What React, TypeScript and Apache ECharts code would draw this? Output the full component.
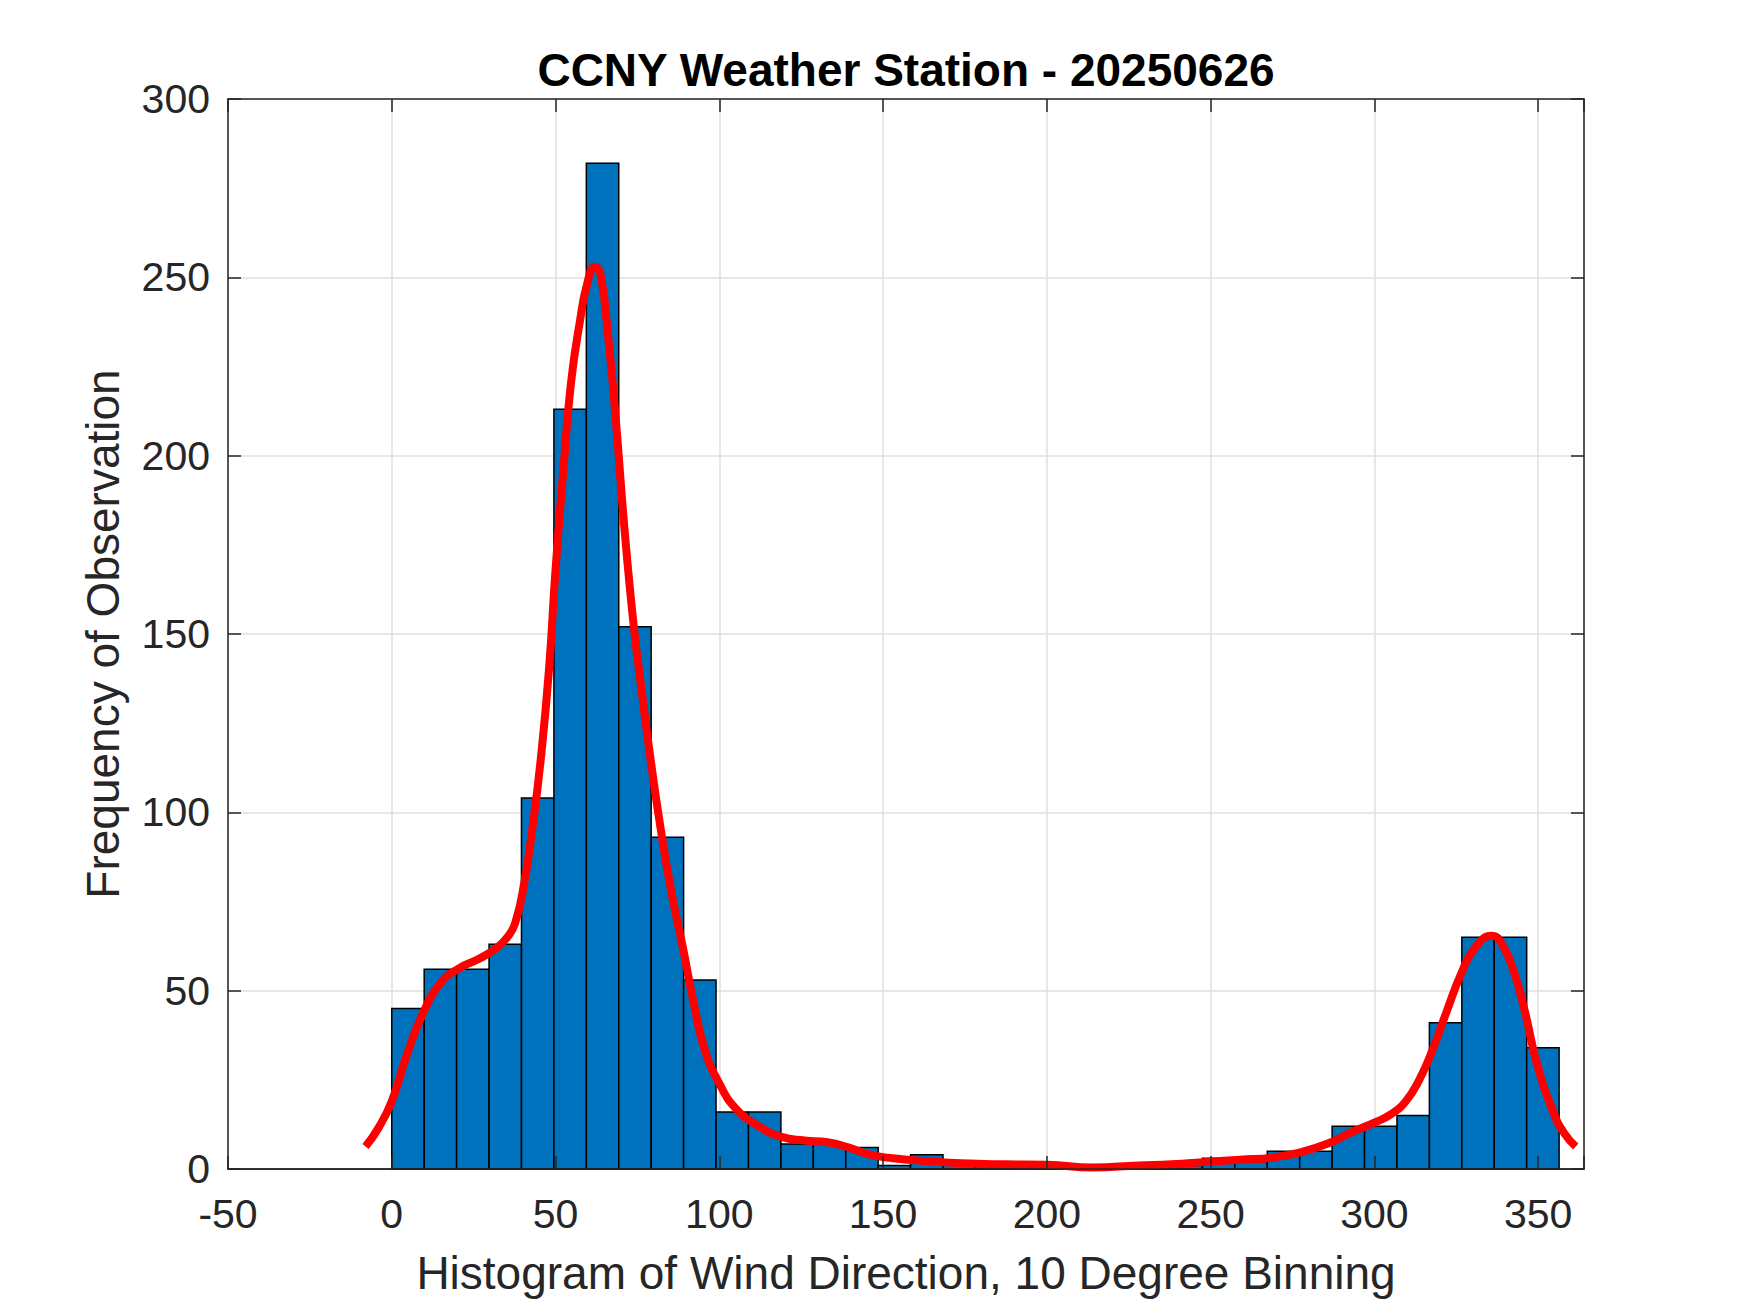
import React, { useEffect, useRef } from 'react';
import * as echarts from 'echarts';

// histogram of wind direction, 36 bins from 0 to ~356.5 deg
const binStart = 0;
const binWidth = 9.9;
const binCounts = [
    45, 56, 56, 63, 104, 213, 282, 152, 93, 53,
    16, 16, 7, 7, 6, 1, 4, 2, 2, 1,
    1, 0, 1, 1, 1, 3, 2, 5, 5, 12,
    12, 15, 41, 65, 65, 34,
];

// density fit (scaled to counts)
const kdeX = [
    -8, -4, 0, 4.6, 9.7, 14.8, 20, 26.8, 32, 35.3, 37.7, 40.4, 43, 45.5, 48, 50,
    52.4, 54.8, 57.5, 59.6, 62, 63.7, 66, 68.5, 71, 73.9, 76.3, 79, 82, 85.5,
    88.9, 92.3, 95.7, 100, 105, 112, 119, 126, 133, 139.6, 146, 153, 163.5, 174,
    187, 200, 214, 228, 238, 249, 259, 269, 277.6, 286, 293, 300, 305, 309.6,
    313.7, 317.8, 322, 326.6, 330.7, 335.8, 339, 342.7, 346, 349.5, 354.6, 358, 361.5,
];
const kdeY = [
    6.3, 11.6, 19, 32, 44, 52, 56, 59, 62, 65, 69, 80, 96, 115, 140, 168,
    196, 221, 238, 248, 253, 251, 234, 209, 180, 152, 134, 115, 96, 77,
    62, 46, 33, 24, 17, 12, 9, 8, 7.5, 6, 4, 3, 2.2, 1.6,
    1.3, 1.2, 0.4, 1, 1.3, 2, 2.6, 3.2, 4.7, 7.2, 10.3, 13, 15.3, 19,
    25, 33.5, 44, 55, 62, 65.4, 63, 55, 44, 30, 16, 10, 6.3,
];

const xTicks = [-50, 0, 50, 100, 150, 200, 250, 300, 350];
const yTicks = [0, 50, 100, 150, 200, 250, 300];

const titleText = 'CCNY Weather Station - 20250626';
const xLabelText = 'Histogram of Wind Direction, 10 Degree Binning';
const yLabelText = 'Frequency of Observation';

const FONT = '"Liberation Sans", Arial, Helvetica, sans-serif';
const AXIS_COLOR = '#262626';

const App = () => {
    const chartRef = useRef(null);

    useEffect(() => {
        const chart = echarts.init(chartRef.current, null, { renderer: 'svg' });

        const xMin = xTicks[0];
        const xMax = 364;
        const yMin = yTicks[0];
        const yMax = yTicks[yTicks.length - 1];

        const bars = binCounts.map((c, i) => [
            binStart + i * binWidth,
            binStart + (i + 1) * binWidth,
            c,
        ]);
        const kde = kdeX.map((x, i) => [x, kdeY[i]]);

        const baseX = {
            type: 'value',
            min: xMin,
            max: xMax,
            interval: 50,
            axisLine: { show: true, onZero: false, lineStyle: { color: AXIS_COLOR, width: 1.5 } },
            axisTick: { show: true, inside: true, length: 13, lineStyle: { color: AXIS_COLOR, width: 1.5 } },
            axisLabel: { show: false },
            splitLine: { show: false },
        };
        const baseY = {
            type: 'value',
            min: yMin,
            max: yMax,
            interval: 50,
            axisLine: { show: true, onZero: false, lineStyle: { color: AXIS_COLOR, width: 1.5 } },
            axisTick: { show: true, inside: true, length: 13, lineStyle: { color: AXIS_COLOR, width: 1.5 } },
            axisLabel: { show: false },
            splitLine: { show: false },
        };

        const options = {
            animation: false,
            backgroundColor: '#ffffff',
            grid: { left: 228, right: 166, top: 99, bottom: 144, containLabel: false },
            xAxis: [
                {
                    ...baseX,
                    position: 'bottom',
                    axisTick: { show: false },
                    axisLabel: {
                        show: true,
                        showMaxLabel: false,
                        margin: 24,
                        fontSize: 41,
                        fontFamily: FONT,
                        color: AXIS_COLOR,
                        formatter: (v: number) => (xTicks.includes(v) ? String(v) : ''),
                    },
                    splitLine: { show: true, lineStyle: { color: '#dfdfdf', width: 1.5 } },
                },
                { ...baseX, position: 'top' },
                { ...baseX, position: 'bottom', z: 10 },
            ],
            yAxis: [
                {
                    ...baseY,
                    position: 'left',
                    axisLabel: {
                        show: true,
                        margin: 18,
                        fontSize: 41,
                        fontFamily: FONT,
                        color: AXIS_COLOR,
                    },
                    splitLine: { show: true, lineStyle: { color: '#dfdfdf', width: 1.5 } },
                },
                { ...baseY, position: 'right' },
            ],
            graphic: [
                {
                    type: 'text',
                    x: 906,
                    y: 70,
                    style: {
                        text: titleText,
                        fill: '#000000',
                        font: `bold 46px ${FONT}`,
                        align: 'center',
                        verticalAlign: 'middle',
                    },
                },
                {
                    type: 'text',
                    x: 906,
                    y: 1273,
                    style: {
                        text: xLabelText,
                        fill: AXIS_COLOR,
                        font: `46px ${FONT}`,
                        align: 'center',
                        verticalAlign: 'middle',
                    },
                },
                {
                    type: 'text',
                    x: 103,
                    y: 634,
                    rotation: Math.PI / 2,
                    style: {
                        text: yLabelText,
                        fill: AXIS_COLOR,
                        font: `46px ${FONT}`,
                        align: 'center',
                        verticalAlign: 'middle',
                    },
                },
            ],
            series: [
                {
                    type: 'custom',
                    xAxisIndex: 0,
                    yAxisIndex: 0,
                    z: 2,
                    data: bars,
                    renderItem: (params: any, api: any) => {
                        const p0 = api.coord([api.value(0), api.value(2)]);
                        const p1 = api.coord([api.value(1), 0]);
                        return {
                            type: 'rect',
                            shape: { x: p0[0], y: p0[1], width: p1[0] - p0[0], height: p1[1] - p0[1] },
                            style: { fill: '#0072BD', stroke: '#000000', lineWidth: 1.5 },
                        };
                    },
                },
                {
                    type: 'line',
                    xAxisIndex: 0,
                    yAxisIndex: 0,
                    z: 3,
                    data: kde,
                    showSymbol: false,
                    symbol: 'none',
                    smooth: 0.5,
                    clip: false,
                    lineStyle: { color: '#ff0000', width: 8, cap: 'butt', join: 'round' },
                },
            ],
        };

        chart.setOption(options);

        return () => {
            chart.dispose();
        };
    }, []);

    return (
        <div
            ref={chartRef}
            style={{ position: 'fixed', left: 0, top: 0, width: '1750px', height: '1313px' }}
        ></div>
    );
};

export default App;
